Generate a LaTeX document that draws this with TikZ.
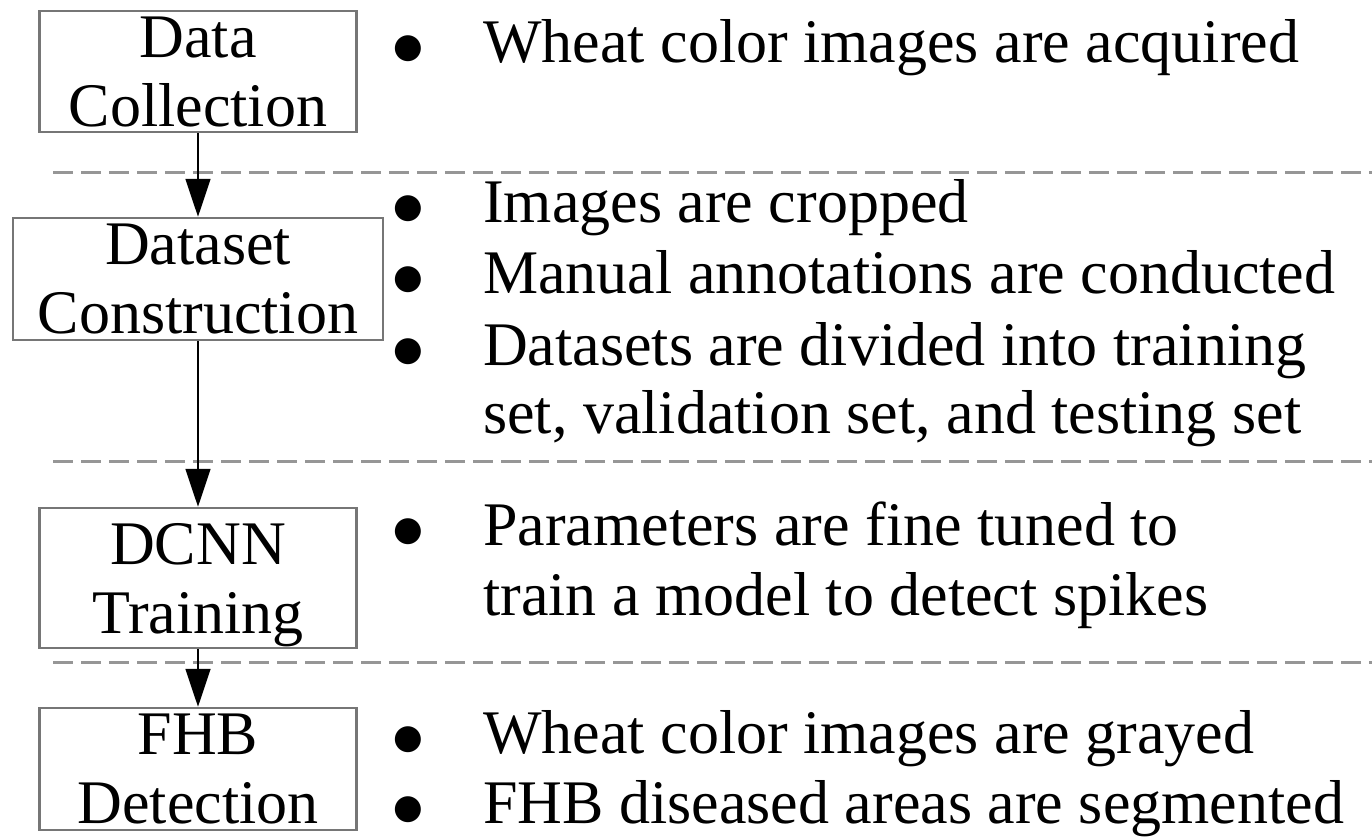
\documentclass[tikz,border=0pt]{standalone}
\usepackage{fontspec}
\setmainfont{Liberation Serif}
\newfontfamily\dotfont{DejaVu Sans}
\usetikzlibrary{positioning, arrows.meta}
\definecolor{framegray}{RGB}{118,118,118}
\definecolor{dashgray}{RGB}{150,150,150}

\begin{document}
\begin{tikzpicture}[x=1pt, y=-1pt]
  \tikzset{
    stage/.style={
      draw=framegray,
      line width=2.5pt,
      minimum width=317pt,
      minimum height=121pt,
      align=center,
      inner sep=0pt,
      text depth=0pt,
      font=\fontsize{62}{69}\selectfont
    },
    item/.style={
      anchor=base west,
      align=left,
      inner sep=0pt,
      font=\fontsize{62}{70}\selectfont
    },
    dot/.style={
      anchor=base,
      inner sep=0pt,
      font=\dotfont\fontsize{34}{34}\selectfont
    },
    flow/.style={
      draw,
      line width=1.8pt,
      -{Triangle[width=25pt,length=38pt]}
    },
    separator/.style={
      draw=dashgray,
      line width=3pt,
      dash pattern=on 20pt off 8pt
    }
  }
  \useasboundingbox (0,0) rectangle (1372,836);

  % Separators between the stages
  \foreach \ypos in {172, 461, 662}
    \draw[separator] (53,\ypos) -- (1372,\ypos);

  % Stages
  \node[stage] at (198, 71.5) (collect) {Data\\Collection};
  \node[stage, minimum width=370pt, minimum height=122pt] at (198, 279) (dataset) {Dataset\\Construction};
  \node[stage, minimum height=140pt] at (198, 578) (train) {DCNN\\Training};
  \node[stage, minimum height=122pt] at (198, 769) (detect) {FHB\\Detection};

  % Flow between the stages
  \draw[flow] (collect) -- (dataset);
  \draw[flow] (dataset) -- (train);
  \draw[flow] (train) -- (detect);

  % Bullets (one per description)
  \foreach \ypos in {62, 222, 293, 365, 545, 753, 823}
    \node[dot] at (408,\ypos-5) (dot\ypos) {●};

  % Descriptions of each stage (multi-line ones sit on their last line)
  \node[item] at (483, 62) (acquire) {Wheat color images are acquired};
  \node[item] at (483, 222) (crop) {Images are cropped};
  \node[item] at (483, 293) (annotate) {Manual annotations are conducted};
  \node[item, font=\fontsize{62}{68}\selectfont] at (483, 433) (divide) {Datasets are divided into training\\set, validation set, and testing set};
  \node[item] at (483, 615) (tune) {Parameters are fine tuned to\\train a model to detect spikes};
  \node[item] at (483, 753) (gray) {Wheat color images are grayed};
  \node[item] at (483, 823) (segment) {FHB diseased areas are segmented};
\end{tikzpicture}
\end{document}
